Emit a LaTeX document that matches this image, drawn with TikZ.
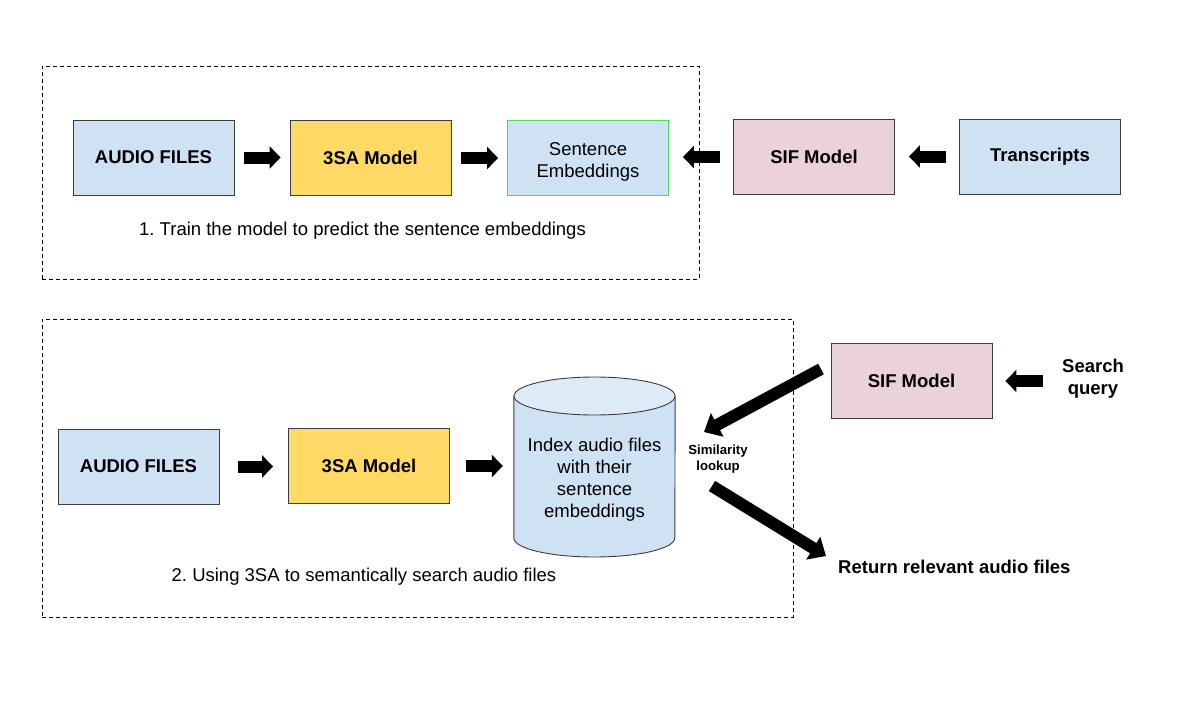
\documentclass[tikz,border=0pt]{standalone}
\usepackage{fontspec}
\setmainfont{Liberation Sans}
\usetikzlibrary{arrows.meta,calc}
\definecolor{cblue}{HTML}{CFE2F3}
\definecolor{ctop}{HTML}{DEEBF7}
\definecolor{cyellow}{HTML}{FFD966}
\definecolor{cpink}{HTML}{EAD1DC}
\definecolor{cgreen}{RGB}{80,220,80}
\definecolor{cgray}{HTML}{3C3C3C}
\frenchspacing
\begin{document}
\begin{tikzpicture}[x=1pt,y=-1pt,
  box/.style={draw=cgray, line width=0.9pt, minimum width=161pt, minimum height=75pt, inner sep=0pt, align=center, font=\fontsize{18.5}{22}\selectfont},
  bfbox/.style={box, font=\fontsize{18.5}{22}\selectfont\bfseries},
  txt/.style={inner sep=0pt, align=center, font=\fontsize{18.5}{22}\selectfont},
  bftxt/.style={inner sep=0pt, align=center, font=\fontsize{18.5}{22}\selectfont\bfseries},
  blk/.style={line width=12pt, -{Triangle[length=11pt,width=22pt]}, black},
  diag/.style={line width=12pt, -{Triangle[length=15pt,width=26pt]}, black},
  frame/.style={draw=black, line width=0.8pt, dash pattern=on 4pt off 3pt}]
\useasboundingbox (0,0) rectangle (1194,707);
\fill[white] (0,0) rectangle (1194,707);

% frames
\node[frame, minimum width=657pt, minimum height=213pt, inner sep=0pt] (f1) at (370.5,172.5) {};
\node[frame, minimum width=751pt, minimum height=298pt, inner sep=0pt] (f2) at (417.5,468) {};

% top row
\node[bfbox, fill=cblue] (a1) at (153.5,157.5) {AUDIO FILES};
\node[bfbox, fill=cyellow] (m1) at (370.5,158) {3SA Model};
\node[box, fill=cblue, draw=cgreen] (se) at (588,158) {};
\node[txt] (set) at (588,161.5) {Sentence\\Embeddings};
\node[bfbox, fill=cpink] (sif1) at (814,157) {SIF Model};
\node[bfbox, fill=cblue] (tr) at (1040,156.5) {Transcripts};
\node[txt] (c1) at (362.5,231) {1. Train the model to predict the sentence embeddings};

\draw[blk, shorten <=10pt, shorten >=9pt] (a1.east) -- (a1.east -| m1.west);
\draw[blk, shorten <=10pt, shorten >=9pt] (m1.east) -- (m1.east -| se.west);
\draw[blk, shorten <=13pt, shorten >=14pt] (sif1.west) -- (sif1.west -| se.east);
\draw[blk, shorten <=13pt, shorten >=14pt] (tr.west) -- (tr.west -| sif1.east);

% bottom row
\node[bfbox, fill=cblue] (a2) at (138.5,466.5) {AUDIO FILES};
\node[bfbox, fill=cyellow] (m2) at (369,466) {3SA Model};
\node[minimum width=161pt, minimum height=180pt, inner sep=0pt] (db) at (594.5,467) {};
\fill[cblue] (db.west |- 0,396) -- (db.west |- 0,538) arc[start angle=180,end angle=360,x radius=80.5pt,y radius=19pt] -- (db.east |- 0,396) -- cycle;
\draw[cgray, line width=0.9pt] (db.west |- 0,396) -- (db.west |- 0,538) arc[start angle=180,end angle=360,x radius=80.5pt,y radius=19pt] -- (db.east |- 0,396);
\draw[cgray, line width=0.9pt, fill=ctop] (db.center |- 0,396) ellipse[x radius=80.5pt, y radius=19pt];
\node[txt] (dbt) at (594.5,480) {Index audio files\\with their\\sentence\\embeddings};
\node[txt] (c2) at (364,577) {2. Using 3SA to semantically search audio files};

\node[bfbox, fill=cpink] (sif2) at (911.5,381) {SIF Model};
\node[bftxt] (sq) at (1093,378.5) {Search\\query};
\node[inner sep=0pt, align=center, font=\fontsize{13.2}{16}\selectfont\bfseries] (sim) at (718,459) {Similarity\\lookup};
\node[bftxt, anchor=west] (ret) at (838,567) {Return relevant audio files};

\draw[blk, shorten <=19pt, shorten >=15pt] (a2.east) -- (a2.east -| m2.west);
\draw[blk, shorten <=16pt, shorten >=11pt] (m2.east) -- (m2.east -| db.west);
\draw[blk, shorten <=19pt, shorten >=13pt] (sq.west |- sif2.east) -- (sif2.east);

\coordinate (d1s) at (821,369);
\coordinate (d1e) at (704,432);
\coordinate (d2s) at (712,486);
\coordinate (d2e) at (826,556);
\draw[diag] (d1s) -- (d1e);
\draw[diag] (d2s) -- (d2e);
\end{tikzpicture}
\end{document}
